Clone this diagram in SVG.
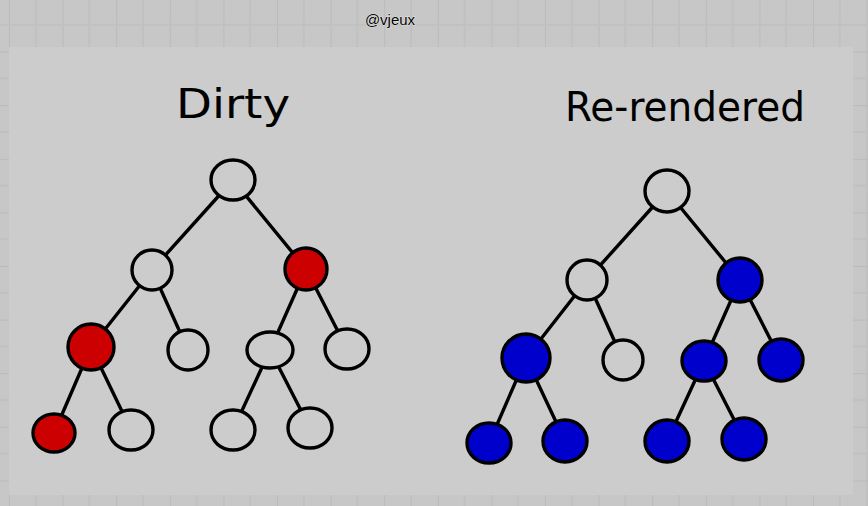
<svg xmlns="http://www.w3.org/2000/svg" width="868" height="506" viewBox="0 0 868 506">
<defs>
<pattern id="grid" x="9" y="-2" width="53.6" height="53.6" patternUnits="userSpaceOnUse">
<rect width="53.6" height="53.6" fill="#c7c7c7"/>
<path d="M0 0V53.6M0 0H53.6" stroke="#bbbbbb" stroke-width="2" fill="none"/>
<path d="M26.8 0V53.6M0 26.8H53.6" stroke="#c0c0c0" stroke-width="1.5" fill="none"/>
</pattern>
<style>
.e{stroke:#000;stroke-width:3.4;stroke-linecap:round;fill:none}
.n{stroke:#000;stroke-width:3.4}
.w{fill:#cccccc}
.r{fill:#cc0000}
.b{fill:#0000cc}
.t{font-family:"DejaVu Sans","Liberation Sans",sans-serif;fill:#000;font-weight:normal}
</style>
</defs>
<rect width="868" height="506" fill="url(#grid)"/>
<rect x="9" y="47" width="844" height="448" fill="#cccccc"/>
<text x="390" y="25" text-anchor="middle" font-family="Liberation Sans, Arial, sans-serif" font-size="15" fill="#000" stroke="#ffffff" stroke-width="0.6" paint-order="stroke">@vjeux</text>
<text class="t" x="176" y="118" font-size="40" textLength="114" lengthAdjust="spacingAndGlyphs">Dirty</text>
<text class="t" x="565" y="121" font-size="40" textLength="240" lengthAdjust="spacingAndGlyphs">Re-rendered</text>
<g id="connectors">
<path class="e" d="M233 180L152 270M233 180L306 269M152 270L91 347M152 270L188 350M306 269L270 350M306 269L347 349M91 347L54 433M91 347L131 430M270 350L233 430M270 350L310 428"/>
<path class="e" d="M667 191L587 280M667 191L740 280M587 280L526 358M587 280L623 360M740 280L704 361M740 280L781 360M526 358L489 443M526 358L565 441M704 361L667 441M704 361L744 439"/>
</g>
<g id="dirty-root"><ellipse class="n w" cx="233" cy="180" rx="22" ry="20"/></g>
<g id="dirty-a"><ellipse class="n w" cx="152" cy="270" rx="20" ry="20"/></g>
<g id="dirty-b"><ellipse class="n r" cx="306" cy="269" rx="21" ry="21"/></g>
<g id="dirty-c"><ellipse class="n r" cx="91" cy="347" rx="23" ry="23"/></g>
<g id="dirty-d"><ellipse class="n w" cx="188" cy="350" rx="20" ry="20"/></g>
<g id="dirty-e"><ellipse class="n w" cx="270" cy="350" rx="23" ry="18"/></g>
<g id="dirty-f"><ellipse class="n w" cx="347" cy="349" rx="22" ry="20"/></g>
<g id="dirty-g"><ellipse class="n r" cx="54" cy="433" rx="21" ry="19"/></g>
<g id="dirty-h"><ellipse class="n w" cx="131" cy="430" rx="22" ry="20"/></g>
<g id="dirty-i"><ellipse class="n w" cx="233" cy="430" rx="22" ry="20"/></g>
<g id="dirty-j"><ellipse class="n w" cx="310" cy="428" rx="22" ry="20"/></g>
<g id="rr-root"><ellipse class="n w" cx="667" cy="191" rx="22" ry="21"/></g>
<g id="rr-a"><ellipse class="n w" cx="587" cy="280" rx="20" ry="20"/></g>
<g id="rr-b"><ellipse class="n b" cx="740" cy="280" rx="22" ry="22"/></g>
<g id="rr-c"><ellipse class="n b" cx="526" cy="358" rx="24" ry="24"/></g>
<g id="rr-d"><ellipse class="n w" cx="623" cy="360" rx="20" ry="20"/></g>
<g id="rr-e"><ellipse class="n b" cx="704" cy="361" rx="22" ry="20"/></g>
<g id="rr-f"><ellipse class="n b" cx="781" cy="360" rx="22" ry="21"/></g>
<g id="rr-g"><ellipse class="n b" cx="489" cy="443" rx="22" ry="20"/></g>
<g id="rr-h"><ellipse class="n b" cx="565" cy="441" rx="22" ry="21"/></g>
<g id="rr-i"><ellipse class="n b" cx="667" cy="441" rx="22" ry="21"/></g>
<g id="rr-j"><ellipse class="n b" cx="744" cy="439" rx="22" ry="21"/></g>
</svg>
